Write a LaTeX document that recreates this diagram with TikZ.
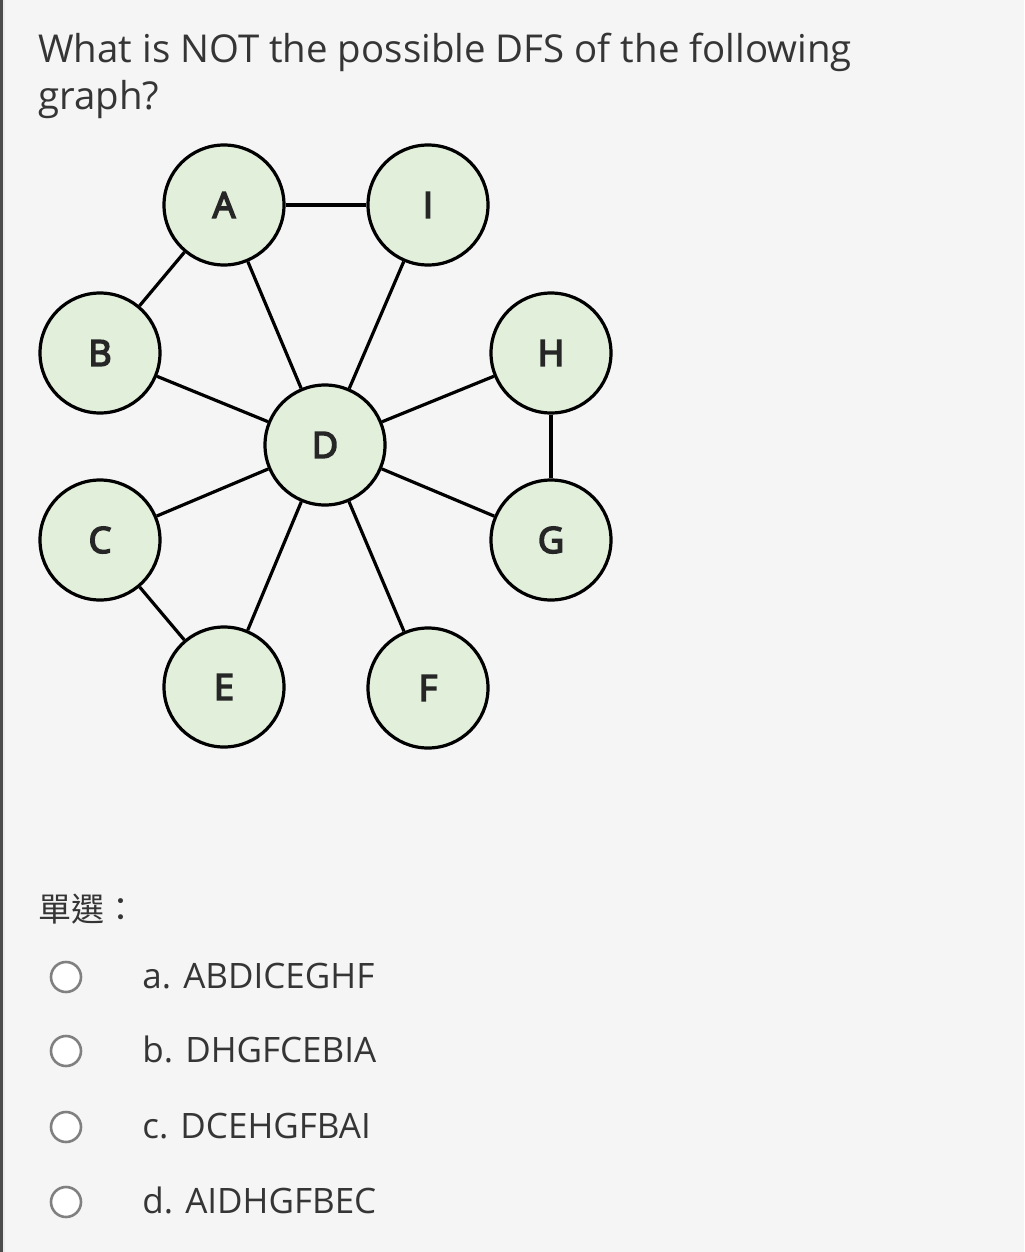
\documentclass[tikz,border=0pt]{standalone}
\usepackage{fontspec}
\setmainfont{Open Sans}
\newfontfamily\nodefont[FakeBold=4.5]{Open Sans}
\newfontfamily\cjk{Noto Sans CJK TC}
\definecolor{pagebg}{HTML}{F5F5F5}
\definecolor{vfill}{HTML}{E2EFDA}
\definecolor{txt}{HTML}{353535}
\tikzset{
  vertex/.style={circle, draw=black, line width=1.6pt, fill=vfill, minimum size=60pt,
    inner sep=0pt, font=\nodefont\fontsize{18}{18}\selectfont, text=black!85},
  line/.style={anchor=base west, inner sep=0pt, text=txt},
  radio/.style={circle, draw=black!50, line width=1.3pt, fill=white, minimum size=15pt, inner sep=0pt}
}
\begin{document}
\begin{tikzpicture}
[x=0.5pt, y=-0.5pt]
\fill[pagebg] (0,0) rectangle (1024,1252);
\useasboundingbox (0,0) rectangle (1024,1252);
\fill[black!70] (0,0) rectangle (2.5,1252);
\fill[black!8] (2.5,0) rectangle (5,1252);

% question
\node[line, font=\fontsize{19.2}{23}\selectfont] (q1) at (38,63) {What is NOT the possible DFS of the following};
\node[line, font=\fontsize{19.2}{23}\selectfont] (q2) at (38,110) {graph?};

% graph
\node[vertex] (A) at (224,205) {A};
\node[vertex] (I) at (428,205) {I};
\node[vertex] (B) at (100,353) {B};
\node[vertex] (H) at (551,353) {H};
\node[vertex] (D) at (325,445) {D};
\node[vertex] (C) at (100,540) {C};
\node[vertex] (G) at (551,540) {G};
\node[vertex] (E) at (224,687) {E};
\node[vertex] (F) at (428,688) {F};
\draw[line width=1.6pt] (A) -- (I);
\draw[line width=1.6pt] (A) -- (B);
\draw[line width=1.6pt] (H) -- (G);
\draw[line width=1.6pt] (C) -- (E);
\foreach \v in {A,I,B,H,C,G,E,F}
  \draw[line width=1.6pt] (D) -- (\v);

% answers
\node[line, font=\cjk\fontsize{16.5}{20}\selectfont] (kind) at (38,921) {單選：};
\foreach \y/\t [count=\i] in {988/a. ABDICEGHF, 1062/b. DHGFCEBIA, 1138/c. DCEHGFBAI, 1213/d. AIDHGFBEC} {
  \node[radio] (r\i) at (66,\y-11) {};
  \node[line, font=\fontsize{17.5}{21}\selectfont] (opt\i) at (142,\y) {\t};
}
\end{tikzpicture}
\end{document}
